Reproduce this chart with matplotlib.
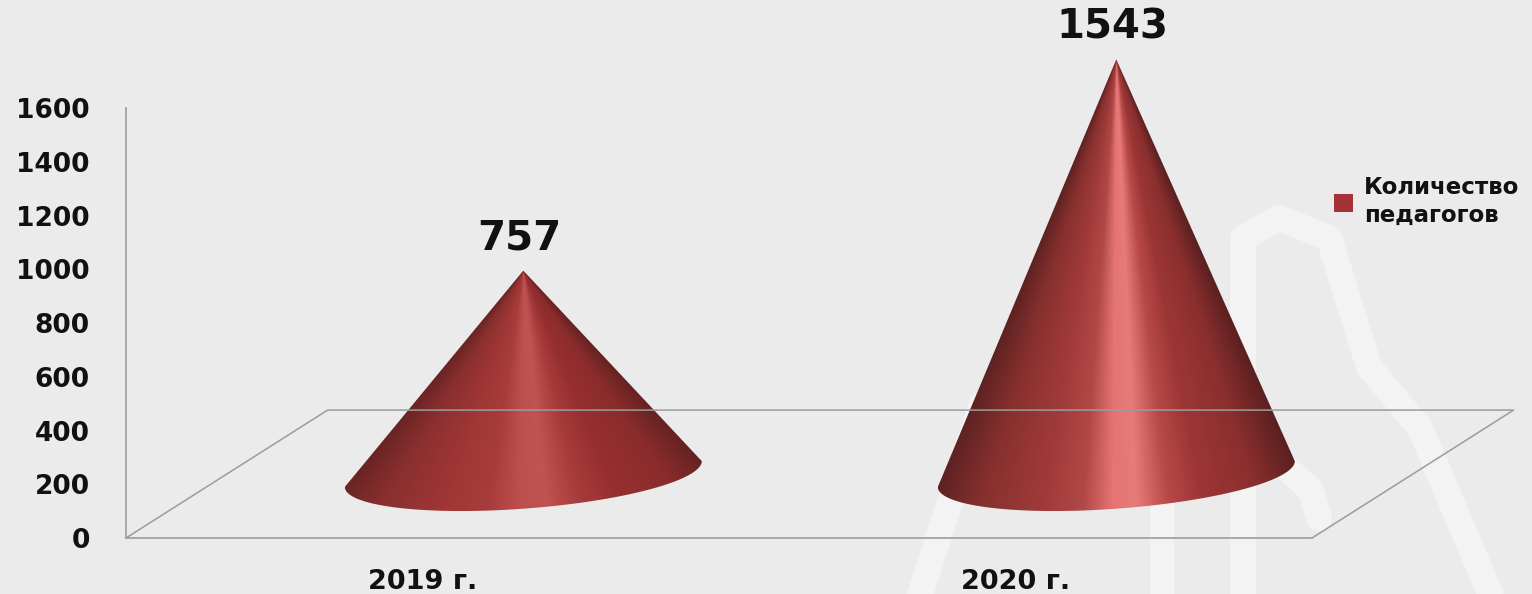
import numpy as np
import matplotlib
matplotlib.use("Agg")
import matplotlib.pyplot as plt
from matplotlib.colors import LinearSegmentedColormap
from matplotlib.patches import Patch, PathPatch
from matplotlib.path import Path

categories = ["2019 г.", "2020 г."]
teachers = [757, 1543]
y_ticks = [0, 200, 400, 600, 800, 1000, 1200, 1400, 1600]
legend_label = "Количество\nпедагогов"

plt.rcParams["font.family"] = "DejaVu Sans"
plt.rcParams["font.weight"] = "bold"

BG = "#ebebeb"
WATERMARK = "#f3f3f3"
LINE = "#9c9c9c"

fig = plt.figure(figsize=(15.32, 5.94), dpi=100, facecolor=BG)

# pale logo behind the chart, in image pixels
bg = fig.add_axes([0, 0, 1, 1])
bg.set_xlim(0, 1532)
bg.set_ylim(594, 0)
bg.axis("off")
strokes = [
    ([1243, 640, 1243, 238, 1279, 218, 1329, 238, 1369, 367, 1420, 428, 1525, 676], 26),
    ([981, 406, 904, 644], 26),
    ([1162, 640, 1162, 500], 24),
    ([1275, 458, 1311, 490, 1319, 518], 26),
]
for pts, w in strokes:
    bg.plot(pts[0::2], pts[1::2], color=WATERMARK, lw=w * 0.72,
            solid_capstyle="round", solid_joinstyle="round")
t = np.linspace(np.pi, 2 * np.pi, 80)
for cx, cy, r in [(1009, 684, 82), (1420, 684, 82), (1300, 684, 82)]:
    bg.plot(cx + r * np.cos(t), cy + r * np.sin(t), color=WATERMARK, lw=24 * 0.72)

# chart axes: front edge of the floor, y scale runs up to the top of the image
ax = fig.add_axes([126 / 1532, (594 - 538) / 594, 1186 / 1532, 538 / 594])
ax.patch.set_alpha(0)
ax.set_xlim(-0.5, 1.5)
ax.set_ylim(0, 2002)

DEPTH_X = 0.17
DEPTH_Y = 238

ax.set_xticks(range(len(categories)), categories)
ax.set_yticks(y_ticks)
ax.tick_params(length=0, labelcolor="#111111")
ax.tick_params(axis="y", labelsize=19, pad=26)
ax.tick_params(axis="x", labelsize=19.5, pad=22)
for s in ["top", "right"]:
    ax.spines[s].set_visible(False)
for s in ["left", "bottom"]:
    ax.spines[s].set_color(LINE)
    ax.spines[s].set_linewidth(1.2)
ax.spines["left"].set_bounds(0, 1600)

# floor
ax.plot([-0.5, -0.5 + 2 * DEPTH_X, 1.5 + 2 * DEPTH_X, 1.5],
        [0, 2 * DEPTH_Y, 2 * DEPTH_Y, 0], color=LINE, lw=1.1, clip_on=False)

cone_colors = [
    ["#6a2424", "#8a2f2f", "#a03636", "#a83c3c", "#bd504e", "#c15452", "#a83b3b", "#962f30", "#8a2c2c", "#662222"],
    ["#5e2222", "#86302e", "#a03a3a", "#b04846", "#e57474", "#e87a7a", "#b84a48", "#9c3636", "#8a2e2e", "#5a2020"],
]
cmap_pos = [0, 0.13, 0.3, 0.41, 0.49, 0.55, 0.63, 0.72, 0.87, 1]

RX = 0.301
TILT = 48
RY = 129

for i, val in enumerate(teachers):
    cx = i + DEPTH_X
    base = DEPTH_Y
    tip = val + DEPTH_Y
    t = np.linspace(np.pi, 2 * np.pi, 100)
    rim_x = cx + RX * np.cos(t)
    rim_y = base + TILT * np.cos(t) + RY * np.sin(t)
    verts = [(cx, tip)] + list(zip(rim_x, rim_y)) + [(cx, tip)]
    codes = [Path.MOVETO] + [Path.LINETO] * (len(verts) - 2) + [Path.CLOSEPOLY]
    cone = PathPatch(Path(verts, codes), transform=ax.transData, fc="none", ec="none")
    ax.add_patch(cone)

    # shading fans out from the tip
    xs = np.linspace(cx - RX, cx + RX, 500)
    ys = np.linspace(base - RY - TILT, tip, 500)
    xx, yy = np.meshgrid(xs, ys)
    left = RX * (tip - yy) / (tip - (base - TILT))
    right = RX * (tip - yy) / (tip - (base + TILT))
    dx = xx - cx
    u = np.where(dx < 0, dx / np.maximum(left, 1e-6), dx / np.maximum(right, 1e-6))
    cmap = LinearSegmentedColormap.from_list(f"cone{i}", list(zip(cmap_pos, cone_colors[i])))
    im = ax.imshow(u, extent=(xs[0], xs[-1], ys[0], ys[-1]), origin="lower", aspect="auto",
                   cmap=cmap, vmin=-1, vmax=1, interpolation="bilinear")
    im.set_clip_path(cone)

    ax.text(cx - 0.007, tip + 45, str(val), ha="center", va="bottom", fontsize=29, color="#111111")

ax.set_xlim(-0.5, 1.5)
ax.set_ylim(0, 2002)

leg = ax.legend(handles=[Patch(fc="#a63238", ec="none", label=legend_label)],
                loc="upper left", bbox_to_anchor=(1334 / 1532, (594 - 176) / 594),
                bbox_transform=fig.transFigure, frameon=False, borderpad=0, borderaxespad=0,
                handlelength=0.85, handleheight=0.85, handletextpad=0.45, fontsize=16.5,
                labelcolor="#111111")
leg.get_texts()[0].set_linespacing(1.3)

fig.savefig("out.png", dpi=100, facecolor=BG)
